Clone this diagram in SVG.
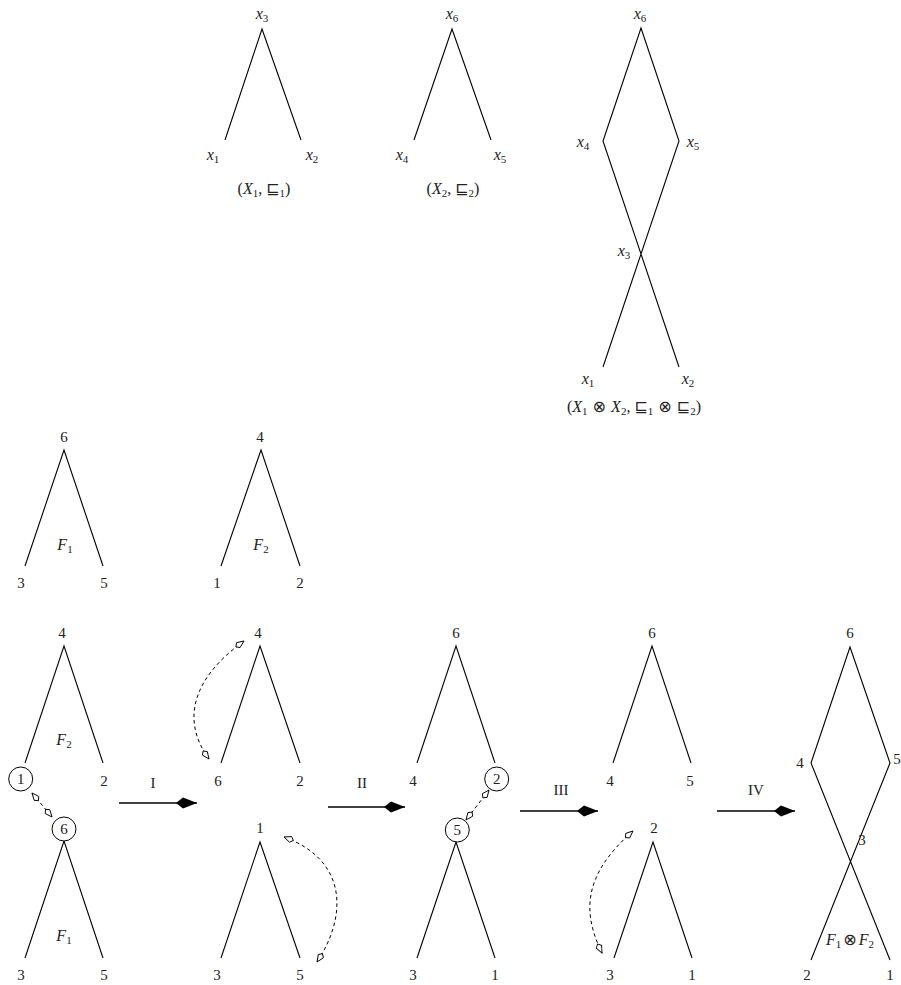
<svg xmlns="http://www.w3.org/2000/svg" width="901" height="985" viewBox="0 0 901 985">
<style>
.e{stroke:#000;stroke-width:1.1;fill:none}
.d{stroke:#000;stroke-width:1;fill:none;stroke-dasharray:3.5 3}
.a{stroke:#000;stroke-width:1.5;fill:none}
.c{stroke:#000;stroke-width:1;fill:#fff}
text{font-family:"Liberation Serif","DejaVu Serif","DejaVu Sans",serif;font-size:15px;fill:#222;text-anchor:middle}
.m{font-style:italic;font-size:16px}
.s{font-size:11px;font-style:normal}
.o{font-style:normal;font-family:"DejaVu Sans",sans-serif;font-size:16px}
.cap{font-size:16px}
</style>
<defs>
<marker id="od" viewBox="-11 -4 12 8" refX="0" refY="0" markerWidth="12" markerHeight="8" markerUnits="userSpaceOnUse" orient="auto-start-reverse">
<path d="M0,0 L-7,-3 L-10,0 L-7,3 Z" fill="#fff" stroke="#000" stroke-width="0.9"/>
</marker>
<marker id="fa" viewBox="-22 -7 23 14" refX="0" refY="0" markerWidth="23" markerHeight="14" markerUnits="userSpaceOnUse" orient="auto">
<path d="M0,0 L-14,-5.5 L-21,0 L-14,5.5 Z" fill="#000"/>
</marker>
</defs>
<g id="connectors">
<path class="e" d="M225,140 L262,29 L301,140"/>
<path class="e" d="M414,140 L452,29 L491,140"/>
<path class="e" d="M603,367 L679,141 L641,28 L603,141 L679,367"/>
<path class="e" d="M25,566 L64,450 L103,566"/>
<path class="e" d="M221,566 L261,450 L300,566"/>
<path class="e" d="M25,763 L64,646 L103,763"/>
<path class="e" d="M25,958 L64,841 L103,958"/>
<path class="d" d="M32,793 L52,817" marker-start="url(#od)" marker-end="url(#od)"/>
<path class="e" d="M221,763 L260,646 L300,763"/>
<path class="e" d="M221,958 L260,842 L300,958"/>
<path class="d" d="M244,641 C190,680 182,722 209,759" marker-start="url(#od)" marker-end="url(#od)"/>
<path class="d" d="M284,837 C347,860 348,915 317,962" marker-start="url(#od)" marker-end="url(#od)"/>
<path class="e" d="M417,763 L456,646 L495,763"/>
<path class="e" d="M417,958 L456,842 L495,958"/>
<path class="d" d="M489,790 L466,820" marker-start="url(#od)" marker-end="url(#od)"/>
<path class="e" d="M613,763 L652,646 L691,763"/>
<path class="e" d="M614,958 L653,842 L692,958"/>
<path class="d" d="M633,831 C583,875 582,912 602,953" marker-start="url(#od)" marker-end="url(#od)"/>
<path class="e" d="M811,960 L890,763 L850,647 L811,763 L890,960"/>
<path class="a" d="M119,803 L197,803" marker-end="url(#fa)"/>
<path class="a" d="M328,807 L405,807" marker-end="url(#fa)"/>
<path class="a" d="M520,811 L598,811" marker-end="url(#fa)"/>
<path class="a" d="M717,811 L795,811" marker-end="url(#fa)"/>
</g>
<g id="nodes">
<g id="t1-x3"><text x="262" y="19" class="m">x<tspan class="s" dy="3">3</tspan></text></g>
<g id="t1-x1"><text x="213" y="160" class="m">x<tspan class="s" dy="3">1</tspan></text></g>
<g id="t1-x2"><text x="312" y="160" class="m">x<tspan class="s" dy="3">2</tspan></text></g>
<g id="cap1"><text x="264" y="194" class="cap"><tspan>(</tspan><tspan class="m">X</tspan><tspan class="s" dy="3">1</tspan><tspan dy="-3">, </tspan><tspan class="o">⊑</tspan><tspan class="s" dy="3">1</tspan><tspan dy="-3">)</tspan></text></g>
<g id="t2-x6"><text x="452" y="19" class="m">x<tspan class="s" dy="3">6</tspan></text></g>
<g id="t2-x4"><text x="402" y="160" class="m">x<tspan class="s" dy="3">4</tspan></text></g>
<g id="t2-x5"><text x="500" y="160" class="m">x<tspan class="s" dy="3">5</tspan></text></g>
<g id="cap2"><text x="453" y="194" class="cap"><tspan>(</tspan><tspan class="m">X</tspan><tspan class="s" dy="3">2</tspan><tspan dy="-3">, </tspan><tspan class="o">⊑</tspan><tspan class="s" dy="3">2</tspan><tspan dy="-3">)</tspan></text></g>
<g id="t3-x6"><text x="640" y="19" class="m">x<tspan class="s" dy="3">6</tspan></text></g>
<g id="t3-x4"><text x="583" y="147" class="m">x<tspan class="s" dy="3">4</tspan></text></g>
<g id="t3-x5"><text x="693" y="147" class="m">x<tspan class="s" dy="3">5</tspan></text></g>
<g id="t3-x3"><text x="624" y="256" class="m">x<tspan class="s" dy="3">3</tspan></text></g>
<g id="t3-x1"><text x="588" y="384" class="m">x<tspan class="s" dy="3">1</tspan></text></g>
<g id="t3-x2"><text x="688" y="384" class="m">x<tspan class="s" dy="3">2</tspan></text></g>
<g id="cap3"><text x="634" y="412" class="cap"><tspan>(</tspan><tspan class="m">X</tspan><tspan class="s" dy="3">1</tspan><tspan class="o" dy="-3"> ⊗ </tspan><tspan class="m">X</tspan><tspan class="s" dy="3">2</tspan><tspan dy="-3">, </tspan><tspan class="o">⊑</tspan><tspan class="s" dy="3">1</tspan><tspan class="o" dy="-3"> ⊗ </tspan><tspan class="o">⊑</tspan><tspan class="s" dy="3">2</tspan><tspan dy="-3">)</tspan></text></g>
<g id="f1-6"><text x="64" y="442">6</text></g>
<g id="f1-3"><text x="21" y="588">3</text></g>
<g id="f1-5"><text x="104" y="588">5</text></g>
<g id="f1-lbl"><text x="65" y="550" class="m">F<tspan class="s" dy="3">1</tspan></text></g>
<g id="f2-4"><text x="260" y="442">4</text></g>
<g id="f2-1"><text x="217" y="588">1</text></g>
<g id="f2-2"><text x="300" y="588">2</text></g>
<g id="f2-lbl"><text x="261" y="550" class="m">F<tspan class="s" dy="3">2</tspan></text></g>
<g id="a-4"><text x="62" y="638">4</text></g>
<g id="a-F2"><text x="64" y="745" class="m">F<tspan class="s" dy="3">2</tspan></text></g>
<g id="a-1"><circle class="c" cx="20.7" cy="779" r="12"/><text x="20.7" y="784">1</text></g>
<g id="a-2"><text x="104" y="786">2</text></g>
<g id="a-6"><circle class="c" cx="64" cy="829" r="12"/><text x="64" y="834">6</text></g>
<g id="a-F1"><text x="64" y="941" class="m">F<tspan class="s" dy="3">1</tspan></text></g>
<g id="a-3"><text x="21" y="980">3</text></g>
<g id="a-5"><text x="104" y="980">5</text></g>
<g id="lbl-I"><text x="153" y="788">I</text></g>
<g id="b-4"><text x="258" y="638">4</text></g>
<g id="b-6"><text x="218" y="786">6</text></g>
<g id="b-2"><text x="300" y="786">2</text></g>
<g id="b-1"><text x="260" y="833">1</text></g>
<g id="b-3"><text x="217" y="980">3</text></g>
<g id="b-5"><text x="300" y="980">5</text></g>
<g id="lbl-II"><text x="362" y="788">II</text></g>
<g id="c-6"><text x="456" y="638">6</text></g>
<g id="c-4"><text x="413" y="786">4</text></g>
<g id="c-2"><circle class="c" cx="496.7" cy="779" r="12"/><text x="496.7" y="784">2</text></g>
<g id="c-5"><circle class="c" cx="457.3" cy="830" r="12"/><text x="457.3" y="835">5</text></g>
<g id="c-3"><text x="413" y="980">3</text></g>
<g id="c-1"><text x="495" y="980">1</text></g>
<g id="lbl-III"><text x="561" y="795">III</text></g>
<g id="d-6"><text x="652" y="638">6</text></g>
<g id="d-4"><text x="610" y="786">4</text></g>
<g id="d-5"><text x="690" y="786">5</text></g>
<g id="d-2"><text x="654" y="833">2</text></g>
<g id="d-3"><text x="610" y="980">3</text></g>
<g id="d-1"><text x="692" y="980">1</text></g>
<g id="lbl-IV"><text x="756" y="795">IV</text></g>
<g id="e-6"><text x="850" y="638">6</text></g>
<g id="e-4"><text x="800" y="768">4</text></g>
<g id="e-5"><text x="897" y="764">5</text></g>
<g id="e-3"><text x="862" y="845">3</text></g>
<g id="e-2"><text x="807" y="980">2</text></g>
<g id="e-1"><text x="890" y="980">1</text></g>
<g id="e-lbl"><text x="850" y="945"><tspan class="m">F</tspan><tspan class="s" dy="3">1</tspan><tspan class="o" dy="-3" dx="2">⊗</tspan><tspan class="m" dx="2">F</tspan><tspan class="s" dy="3">2</tspan></text></g>
</g>
</svg>
